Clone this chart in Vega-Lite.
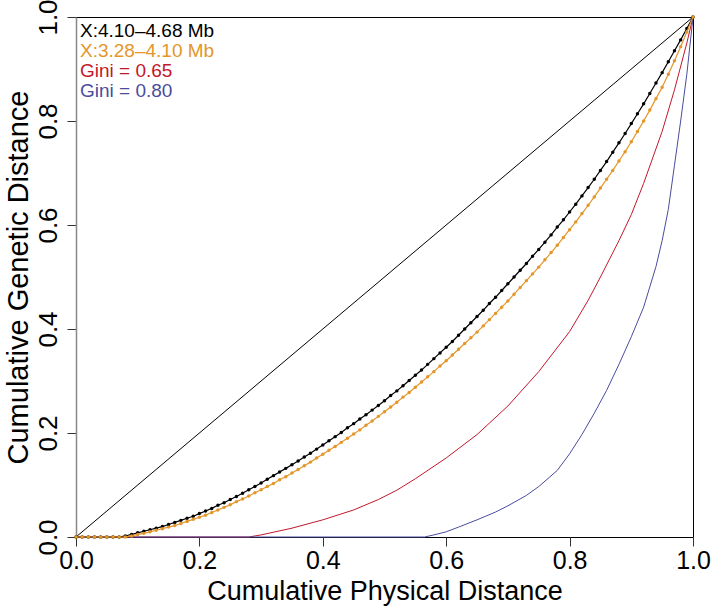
{
  "$schema": "https://vega.github.io/schema/vega-lite/v6.json",
  "width": 617,
  "height": 520,
  "autosize": "none",
  "padding": {"left": 76, "top": 17, "right": 18, "bottom": 72},
  "background": "white",
  "config": {
    "font": "Liberation Sans",
    "view": {"stroke": "#000", "strokeWidth": 1},
    "axis": {
      "grid": false,
      "titleFontWeight": "normal",
      "labelColor": "#000",
      "titleColor": "#000",
      "tickColor": "#333",
      "tickSize": 9,
      "labelFlush": false,
      "labelOverlap": false
    }
  },
  "datasets": {
    "diag": [{"x": 0, "y": 0}, {"x": 1, "y": 1}],
    "black": [
      {"x":0.00,"y":0},{"x":0.01,"y":0},{"x":0.02,"y":0},{"x":0.03,"y":0},{"x":0.04,"y":0},{"x":0.05,"y":0},{"x":0.06,"y":0},{"x":0.07,"y":0},{"x":0.08,"y":0.002},{"x":0.09,"y":0.005},
      {"x":0.10,"y":0.008},{"x":0.11,"y":0.011},{"x":0.12,"y":0.014},{"x":0.13,"y":0.017},{"x":0.14,"y":0.020},{"x":0.15,"y":0.024},{"x":0.16,"y":0.028},{"x":0.17,"y":0.032},{"x":0.18,"y":0.036},{"x":0.19,"y":0.040},
      {"x":0.20,"y":0.045},{"x":0.21,"y":0.050},{"x":0.22,"y":0.055},{"x":0.23,"y":0.061},{"x":0.24,"y":0.066},{"x":0.25,"y":0.072},{"x":0.26,"y":0.078},{"x":0.27,"y":0.084},{"x":0.28,"y":0.091},{"x":0.29,"y":0.097},
      {"x":0.30,"y":0.104},{"x":0.31,"y":0.111},{"x":0.32,"y":0.118},{"x":0.33,"y":0.125},{"x":0.34,"y":0.132},{"x":0.35,"y":0.139},{"x":0.36,"y":0.146},{"x":0.37,"y":0.154},{"x":0.38,"y":0.161},{"x":0.39,"y":0.169},
      {"x":0.40,"y":0.177},{"x":0.41,"y":0.185},{"x":0.42,"y":0.193},{"x":0.43,"y":0.201},{"x":0.44,"y":0.210},{"x":0.45,"y":0.218},{"x":0.46,"y":0.227},{"x":0.47,"y":0.235},{"x":0.48,"y":0.244},{"x":0.49,"y":0.253},
      {"x":0.50,"y":0.262},{"x":0.51,"y":0.272},{"x":0.52,"y":0.281},{"x":0.53,"y":0.291},{"x":0.54,"y":0.301},{"x":0.55,"y":0.311},{"x":0.56,"y":0.321},{"x":0.57,"y":0.332},{"x":0.58,"y":0.343},{"x":0.59,"y":0.354},
      {"x":0.60,"y":0.365},{"x":0.61,"y":0.376},{"x":0.62,"y":0.388},{"x":0.63,"y":0.400},{"x":0.64,"y":0.412},{"x":0.65,"y":0.424},{"x":0.66,"y":0.436},{"x":0.67,"y":0.449},{"x":0.68,"y":0.461},{"x":0.69,"y":0.474},
      {"x":0.70,"y":0.487},{"x":0.71,"y":0.500},{"x":0.72,"y":0.513},{"x":0.73,"y":0.526},{"x":0.74,"y":0.540},{"x":0.75,"y":0.553},{"x":0.76,"y":0.567},{"x":0.77,"y":0.581},{"x":0.78,"y":0.596},{"x":0.79,"y":0.610},
      {"x":0.80,"y":0.625},{"x":0.81,"y":0.640},{"x":0.82,"y":0.656},{"x":0.83,"y":0.672},{"x":0.84,"y":0.688},{"x":0.85,"y":0.705},{"x":0.86,"y":0.722},{"x":0.87,"y":0.740},{"x":0.88,"y":0.758},{"x":0.89,"y":0.776},
      {"x":0.90,"y":0.795},{"x":0.91,"y":0.814},{"x":0.92,"y":0.833},{"x":0.93,"y":0.853},{"x":0.94,"y":0.873},{"x":0.95,"y":0.893},{"x":0.96,"y":0.914},{"x":0.97,"y":0.935},{"x":0.98,"y":0.956},{"x":0.99,"y":0.978},
      {"x":1.00,"y":1.000}
    ],
    "orange": [
      {"x":0.00,"y":0},{"x":0.01,"y":0},{"x":0.02,"y":0},{"x":0.03,"y":0},{"x":0.04,"y":0},{"x":0.05,"y":0},{"x":0.06,"y":0},{"x":0.07,"y":0},{"x":0.08,"y":0},{"x":0.09,"y":0.002},
      {"x":0.10,"y":0.005},{"x":0.11,"y":0.007},{"x":0.12,"y":0.010},{"x":0.13,"y":0.013},{"x":0.14,"y":0.016},{"x":0.15,"y":0.019},{"x":0.16,"y":0.022},{"x":0.17,"y":0.026},{"x":0.18,"y":0.030},{"x":0.19,"y":0.034},
      {"x":0.20,"y":0.038},{"x":0.21,"y":0.042},{"x":0.22,"y":0.047},{"x":0.23,"y":0.052},{"x":0.24,"y":0.057},{"x":0.25,"y":0.062},{"x":0.26,"y":0.068},{"x":0.27,"y":0.073},{"x":0.28,"y":0.079},{"x":0.29,"y":0.085},
      {"x":0.30,"y":0.091},{"x":0.31,"y":0.097},{"x":0.32,"y":0.103},{"x":0.33,"y":0.110},{"x":0.34,"y":0.116},{"x":0.35,"y":0.123},{"x":0.36,"y":0.130},{"x":0.37,"y":0.137},{"x":0.38,"y":0.144},{"x":0.39,"y":0.152},
      {"x":0.40,"y":0.159},{"x":0.41,"y":0.167},{"x":0.42,"y":0.174},{"x":0.43,"y":0.182},{"x":0.44,"y":0.190},{"x":0.45,"y":0.198},{"x":0.46,"y":0.206},{"x":0.47,"y":0.215},{"x":0.48,"y":0.223},{"x":0.49,"y":0.232},
      {"x":0.50,"y":0.241},{"x":0.51,"y":0.250},{"x":0.52,"y":0.259},{"x":0.53,"y":0.269},{"x":0.54,"y":0.278},{"x":0.55,"y":0.288},{"x":0.56,"y":0.298},{"x":0.57,"y":0.308},{"x":0.58,"y":0.318},{"x":0.59,"y":0.329},
      {"x":0.60,"y":0.339},{"x":0.61,"y":0.350},{"x":0.62,"y":0.361},{"x":0.63,"y":0.372},{"x":0.64,"y":0.383},{"x":0.65,"y":0.394},{"x":0.66,"y":0.406},{"x":0.67,"y":0.418},{"x":0.68,"y":0.430},{"x":0.69,"y":0.442},
      {"x":0.70,"y":0.454},{"x":0.71,"y":0.467},{"x":0.72,"y":0.480},{"x":0.73,"y":0.493},{"x":0.74,"y":0.506},{"x":0.75,"y":0.519},{"x":0.76,"y":0.533},{"x":0.77,"y":0.547},{"x":0.78,"y":0.561},{"x":0.79,"y":0.576},
      {"x":0.80,"y":0.591},{"x":0.81,"y":0.606},{"x":0.82,"y":0.622},{"x":0.83,"y":0.638},{"x":0.84,"y":0.654},{"x":0.85,"y":0.671},{"x":0.86,"y":0.688},{"x":0.87,"y":0.705},{"x":0.88,"y":0.723},{"x":0.89,"y":0.741},
      {"x":0.90,"y":0.760},{"x":0.91,"y":0.780},{"x":0.92,"y":0.800},{"x":0.93,"y":0.821},{"x":0.94,"y":0.843},{"x":0.95,"y":0.865},{"x":0.96,"y":0.890},{"x":0.97,"y":0.916},{"x":0.98,"y":0.943},{"x":0.99,"y":0.971},
      {"x":1.00,"y":1.000}
    ],
    "red": [
      {"x":0.00,"y":0},{"x":0.28,"y":0},{"x":0.30,"y":0.004},{"x":0.35,"y":0.017},{"x":0.40,"y":0.033},{"x":0.45,"y":0.052},{"x":0.49,"y":0.072},{"x":0.52,"y":0.090},{"x":0.55,"y":0.112},{"x":0.60,"y":0.152},{"x":0.65,"y":0.197},{"x":0.70,"y":0.252},{"x":0.75,"y":0.318},{"x":0.80,"y":0.395},{"x":0.83,"y":0.455},{"x":0.85,"y":0.500},{"x":0.88,"y":0.570},{"x":0.90,"y":0.620},{"x":0.92,"y":0.680},{"x":0.95,"y":0.780},{"x":0.97,"y":0.860},{"x":0.99,"y":0.950},{"x":1.00,"y":1.0}
    ],
    "blue": [
      {"x":0.00,"y":0},{"x":0.565,"y":0},{"x":0.58,"y":0.004},{"x":0.60,"y":0.010},{"x":0.62,"y":0.019},{"x":0.65,"y":0.033},{"x":0.68,"y":0.048},{"x":0.70,"y":0.060},{"x":0.73,"y":0.080},{"x":0.75,"y":0.097},{"x":0.78,"y":0.128},{"x":0.80,"y":0.160},{"x":0.82,"y":0.197},{"x":0.84,"y":0.238},{"x":0.86,"y":0.282},{"x":0.88,"y":0.332},{"x":0.90,"y":0.385},{"x":0.92,"y":0.442},{"x":0.94,"y":0.520},{"x":0.95,"y":0.570},{"x":0.96,"y":0.630},{"x":0.97,"y":0.715},{"x":0.98,"y":0.800},{"x":0.99,"y":0.890},{"x":1.00,"y":1.0}
    ],
    "labels": [
      {"label": "X:4.10\u20134.68 Mb", "rank": 1, "col": "black"},
      {"label": "X:3.28\u20134.10 Mb", "rank": 2, "col": "orange"},
      {"label": "Gini = 0.65", "rank": 3, "col": "red"},
      {"label": "Gini = 0.80", "rank": 4, "col": "blue"}
    ]
  },
  "layer": [
    {
      "layer": [
        {
          "data": {"name": "diag"},
          "mark": {"type": "line", "color": "#000", "strokeWidth": 1},
          "encoding": {
            "x": {"field": "x", "type": "quantitative", "scale": {"domain": [0, 1], "nice": false, "zero": false},
              "axis": {"title": "Cumulative Physical Distance", "values": [0, 0.2, 0.4, 0.6, 0.8, 1], "format": ".1f", "domain": false, "labelFontSize": 25, "titleFontSize": 27, "labelPadding": 2, "titlePadding": 5}},
            "y": {"field": "y", "type": "quantitative", "scale": {"domain": [0, 1], "nice": false, "zero": false},
              "axis": {"title": "Cumulative Genetic Distance", "values": [0, 0.2, 0.4, 0.6, 0.8, 1], "format": ".1f", "domainColor": "#888", "domainWidth": 1.5, "labelFontSize": 26, "titleFontSize": 29, "labelAngle": -90, "labelAlign": "center", "labelBaseline": "bottom", "labelPadding": 6, "titlePadding": 2}}
          }
        },
        {
          "data": {"name": "red"},
          "mark": {"type": "line", "color": "#C3172B", "strokeWidth": 1},
          "encoding": {"x": {"field": "x", "type": "quantitative"}, "y": {"field": "y", "type": "quantitative"}}
        },
        {
          "data": {"name": "blue"},
          "mark": {"type": "line", "color": "#4A4C9E", "strokeWidth": 1},
          "encoding": {"x": {"field": "x", "type": "quantitative"}, "y": {"field": "y", "type": "quantitative"}}
        },
        {
          "data": {"name": "black"},
          "mark": {"type": "line", "color": "#000", "strokeWidth": 1.2, "point": {"filled": true, "color": "#000", "size": 12}},
          "encoding": {"x": {"field": "x", "type": "quantitative"}, "y": {"field": "y", "type": "quantitative"}}
        },
        {
          "data": {"name": "orange"},
          "mark": {"type": "line", "color": "#E3962A", "strokeWidth": 1.2, "point": {"filled": true, "color": "#E3962A", "size": 12}},
          "encoding": {"x": {"field": "x", "type": "quantitative"}, "y": {"field": "y", "type": "quantitative"}}
        }
      ]
    },
    {
      "data": {"name": "labels"},
      "mark": {"type": "text", "align": "left", "baseline": "middle", "fontSize": 19, "dx": 4},
      "encoding": {
        "x": {"datum": 0, "type": "quantitative"},
        "y": {"field": "rank", "type": "quantitative", "scale": {"domain": [0.325, 26.325], "reverse": true}, "axis": null},
        "text": {"field": "label"},
        "color": {"field": "col", "type": "nominal", "scale": {"domain": ["black", "orange", "red", "blue"], "range": ["#000000", "#E3962A", "#C3172B", "#4A4C9E"]}, "legend": null}
      }
    }
  ],
  "resolve": {"scale": {"y": "independent"}}
}
